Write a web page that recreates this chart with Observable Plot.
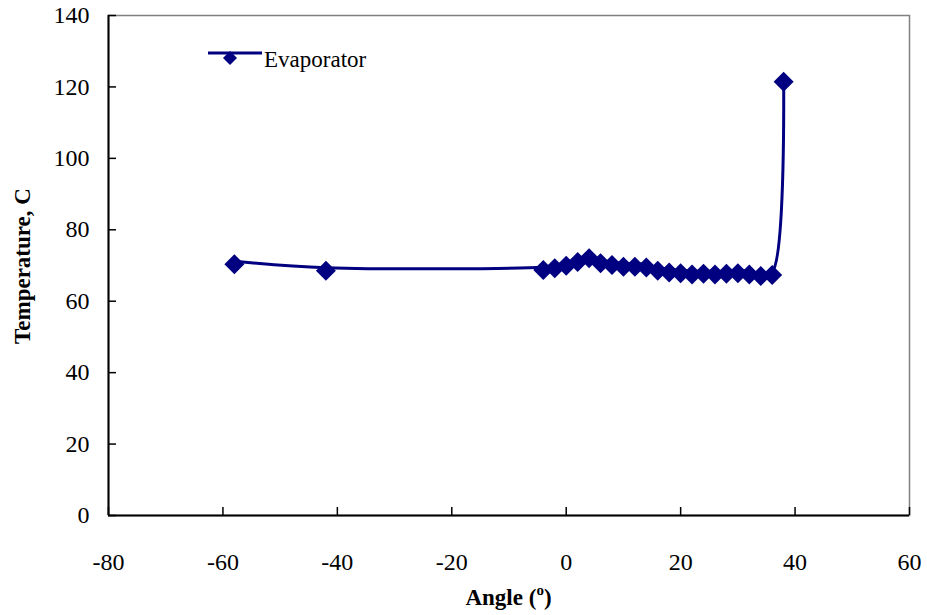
<!DOCTYPE html>
<html><head><meta charset="utf-8">
<script src="https://cdn.jsdelivr.net/npm/d3@7"></script>
<script src="https://cdn.jsdelivr.net/npm/@observablehq/plot@0.6"></script>
<style>html,body{margin:0;padding:0;background:#fff;} svg text{font-family:'Liberation Serif','Times New Roman',serif !important;}</style>
</head><body><div id="chart"></div>
<script>
// ---- data ----
const angles = [-58, -42, -4, -2, 0, 2, 4, 6, 8, 10, 12, 14, 16, 18, 20, 22, 24, 26, 28, 30, 32, 34, 36, 38];
const temps  = [71.2, 69.4, 69.6, 70.1, 70.8, 71.8, 72.9, 71.5, 71.0, 70.5, 70.5, 70.3, 69.4, 68.9, 68.7, 68.3, 68.5, 68.3, 68.5, 68.7, 68.3, 67.9, 68.2, 122.3];
const xTicks = [-80, -60, -40, -20, 0, 20, 40, 60];
const yTicks = [0, 20, 40, 60, 80, 100, 120, 140];
const seriesName = "Evaporator";
const yTitle = "Temperature, C";
const xTitleMain = "Angle (";
const xTitleSup = "o";
const xTitleEnd = ")";

const data = angles.map((a, i) => ({angle: a, temp: temps[i]}));
const navy = "#000080";
const serif = "'Liberation Serif','Times New Roman',serif";

const plot = Plot.plot({
  width: 927, height: 615,
  marginLeft: 108, marginRight: 18, marginTop: 15, marginBottom: 100,
  style: {fontFamily: serif, fontSize: "24px", background: "#fff", color: "#000"},
  x: {domain: [-80, 60], label: null},
  y: {domain: [0, 140], label: null},
  marks: [
    Plot.frame({stroke: "#808080", strokeWidth: 1.5}),
    Plot.ruleX([-80], {stroke: "#000", strokeWidth: 2}),
    Plot.ruleY([0], {stroke: "#000", strokeWidth: 2}),
    Plot.axisX({ticks: xTicks, tickSize: 8, dy: -8, tickFormat: () => "", stroke: "#000", strokeWidth: 1.5, label: null}),
    Plot.axisY({ticks: yTicks, tickSize: 8, dx: 8, tickFormat: () => "", stroke: "#000", strokeWidth: 1.5, label: null}),
    Plot.axisX({ticks: xTicks, tickSize: 0, tickPadding: 37, tickFormat: d => String(d), fontSize: 24, fontFamily: serif, fontVariant: "normal", fill: "#000", label: null}),
    Plot.axisY({ticks: yTicks, tickSize: 0, tickPadding: 19, tickFormat: d => String(d), fontSize: 24, fontFamily: serif, fontVariant: "normal", fill: "#000", label: null}),
    Plot.line(data, {x: "angle", y: "temp", stroke: navy, strokeWidth: 3, curve: "catmull-rom"}),
    Plot.dot(data, {x: "angle", y: "temp", symbol: "diamond2", r: 9, fill: navy, stroke: "none", dy: 3})
  ]
});

const svg = d3.select(plot);
svg.selectAll("g").style("font-family", serif);
svg.selectAll("text").style("font-family", serif);
// y axis title
svg.append("text")
  .attr("transform", "translate(30,266) rotate(-90)")
  .attr("text-anchor", "middle")
  .attr("font-family", serif).attr("font-size", 23).attr("font-weight", "bold")
  .attr("fill", "#000")
  .text(yTitle);
// x axis title
const xt = svg.append("text")
  .attr("x", 508.5).attr("y", 605)
  .attr("text-anchor", "middle")
  .attr("font-family", serif).attr("font-size", 23).attr("font-weight", "bold")
  .attr("fill", "#000");
xt.append("tspan").text(xTitleMain);
xt.append("tspan").attr("font-size", 15).attr("dy", -10).text(xTitleSup);
xt.append("tspan").attr("dy", 10).text(xTitleEnd);
// legend
const lg = svg.append("g");
lg.append("line").attr("x1", 208).attr("x2", 262).attr("y1", 53).attr("y2", 53)
  .attr("stroke", navy).attr("stroke-width", 3);
lg.append("path").attr("d", "M230,51L237,58L230,65L223,58Z").attr("fill", navy);
lg.append("text").attr("x", 264).attr("y", 67)
  .attr("text-anchor", "start")
  .attr("font-family", serif).attr("font-size", 23).attr("fill", "#000")
  .text(seriesName);

document.getElementById("chart").appendChild(plot);
</script>
</body></html>
